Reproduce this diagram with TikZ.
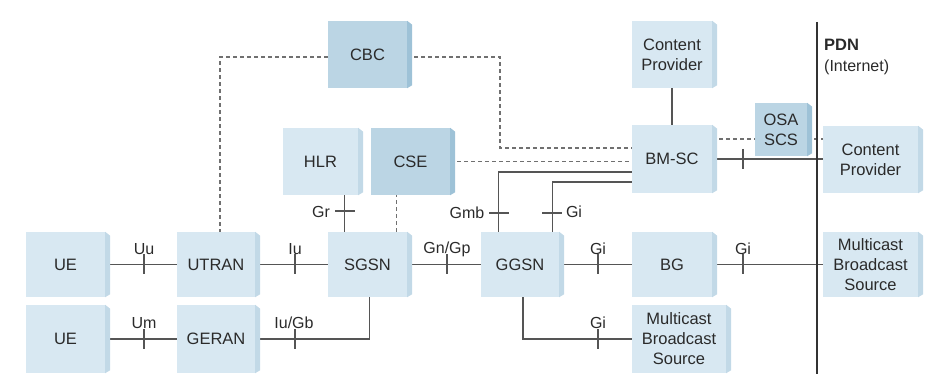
\documentclass[tikz,border=0pt]{standalone}
\usepackage{fontspec}
\setmainfont{Liberation Sans}
\usetikzlibrary{backgrounds,calc}
\definecolor{facel}{HTML}{D8E8F2}
\definecolor{sidel}{HTML}{C2D9E7}
\definecolor{faced}{HTML}{BBD5E4}
\definecolor{sided}{HTML}{9EC2D7}
\definecolor{ln}{HTML}{555555}
\definecolor{dln}{HTML}{707070}
\definecolor{txt}{HTML}{2A2A2A}
\tikzset{
  box/.style={inner sep=0pt, align=center, text=txt, font=\fontsize{16.5}{20}\selectfont},
  conn/.style={draw=ln, line width=1.3pt},
  dconn/.style={draw=dln, line width=1.3pt, dash pattern=on 4pt off 3pt},
  lab/.style={text=txt, font=\fontsize{16}{18}\selectfont, inner sep=0pt},
  pdnline/.style={draw=black!80, line width=2.4pt},
  tickv/.pic={\draw[conn] (0,-10) -- (0,10);},
  tickh/.pic={\draw[conn] (-10,0) -- (10,0);},
}
% name, x1, y1, x2, y2, colour kind (l/d), text
\newcommand\mybx[7]{%
  \node[box, fill=face#6, minimum width={#4-#2}, minimum height={#5-#3}] (#1) at ({(#2+#4)/2},{(#3+#5)/2}) {#7};
  \fill[side#6] (#1.north east) -- ++(5,4) -- ($(#1.south east)+(5,-3)$) -- (#1.south east) -- cycle;
}
\begin{document}
\begin{tikzpicture}[x=1pt,y=-1pt]
\useasboundingbox (0,0) rectangle (927,382);

\mybx{cbc}{328}{21}{407}{88}{d}{CBC}
\mybx{hlr}{283}{128}{358}{195}{l}{HLR}
\mybx{cse}{371}{128}{450}{195}{d}{CSE}
\mybx{cptop}{632}{21}{712}{88}{l}{Content\\Provider}
\mybx{bmsc}{632}{125}{712}{193}{l}{BM-SC}
\mybx{osa}{755}{103}{807}{156}{d}{OSA\\SCS}
\mybx{cpr}{823}{126}{918}{193}{l}{Content\\Provider}
\mybx{ue1}{26}{232}{105}{297}{l}{UE}
\mybx{utran}{177}{232}{255}{297}{l}{UTRAN}
\mybx{sgsn}{328}{232}{407}{297}{l}{SGSN}
\mybx{ggsn}{481}{232}{559}{297}{l}{GGSN}
\mybx{bg}{632}{232}{712}{297}{l}{BG}
\mybx{mbs1}{823}{232}{918}{297}{l}{Multicast\\Broadcast\\Source}
\mybx{ue2}{26}{305}{105}{373}{l}{UE}
\mybx{geran}{177}{305}{255}{373}{l}{GERAN}
\mybx{mbs2}{632}{305}{726}{373}{l}{Multicast\\Broadcast\\Source}

\node[anchor=west, inner sep=0pt, text=txt, font=\fontsize{16.5}{20}\selectfont\bfseries] (pdn) at (824,45) {PDN};
\node[anchor=west, inner sep=0pt, text=txt, font=\fontsize{16}{20}\selectfont] (inet) at (824,67) {(Internet)};

\begin{scope}[on background layer]
  % main row
  \draw[conn] (ue1) -- (utran);
  \draw[conn] (utran) -- (sgsn);
  \draw[conn] (sgsn) -- (ggsn);
  \draw[conn] (ggsn) -- (bg);
  \draw[conn] (bg) -- (mbs1);
  % lower row
  \draw[conn] (ue2) -- (geran);
  \draw[conn] (geran.east) -| ([xshift=2pt]sgsn.south);
  \draw[conn] ([xshift=3pt]ggsn.south) |- (mbs2.west);
  % HLR / CSE to SGSN
  \coordinate (s1) at ([xshift=17pt]sgsn.north west);
  \draw[conn] (s1) -- (s1 |- hlr.south);
  \coordinate (s2) at ([xshift=-11pt]sgsn.north east);
  \draw[dconn] (s2) -- (s2 |- cse.south);
  % CBC
  \coordinate (c0) at ([yshift=-2.5pt]cbc.west);
  \draw[dconn] (c0) -| ([xshift=4pt]utran.north);
  \coordinate (c1) at (500,148);
  \draw[dconn] ([yshift=-2.5pt]cbc.east) -| (c1) -- (c1 -| bmsc.west);
  % CSE to BM-SC
  \draw[dconn] (cse.east) -- (cse.east -| bmsc.west);
  % GGSN to BM-SC
  \coordinate (g1) at ([xshift=18pt]ggsn.north west);
  \coordinate (b1) at ([yshift=-13pt]bmsc.west);
  \draw[conn] (g1) |- (b1);
  \coordinate (g2) at ([xshift=-7pt]ggsn.north east);
  \coordinate (b2) at ([yshift=-23pt]bmsc.west);
  \draw[conn] (g2) |- (b2);
  % Content provider top
  \draw[conn] (cptop) -- (bmsc);
  % BM-SC right side
  \coordinate (b3) at ([yshift=20pt]bmsc.east);
  \draw[dconn] (b3) -- (b3 -| osa.west);
  \draw[dconn] (b3 -| osa.east) -- (b3 -| cpr.west);
  \draw[conn] (bmsc.east) -- (bmsc.east -| cpr.west);
  % PDN line
  \coordinate (pt) at (817,22);
  \coordinate (pb) at (817,374);
  \draw[pdnline] (pt) -- (pb);
\end{scope}

% ticks
\path (144,264.5) pic{tickv};
\path (295,264.5) pic{tickv};
\path (447,264.5) pic{tickv};
\path (598,264.5) pic{tickv};
\path (743,264.5) pic{tickv};
\path (144,339) pic{tickv};
\path (295,339) pic{tickv};
\path (598,339) pic{tickv};
\path (743,159) pic{tickv};
\path (345,211) pic{tickh};
\path (499,213) pic{tickh};
\path (552,213) pic{tickh};

% labels
\node[lab] (luu) at (144,249) {Uu};
\node[lab] (liu) at (295,249) {Iu};
\node[lab] (lgn) at (447,249) {Gn/Gp};
\node[lab] (lgi1) at (598,249) {Gi};
\node[lab] (lgi2) at (743,249) {Gi};
\node[lab] (lum) at (144,323) {Um};
\node[lab] (liugb) at (294,323) {Iu/Gb};
\node[lab] (lgi3) at (598,323) {Gi};
\node[lab] (lgr) at (321,212) {Gr};
\node[lab] (lgmb) at (467,213) {Gmb};
\node[lab] (lgi4) at (574,212) {Gi};
\end{tikzpicture}
\end{document}
